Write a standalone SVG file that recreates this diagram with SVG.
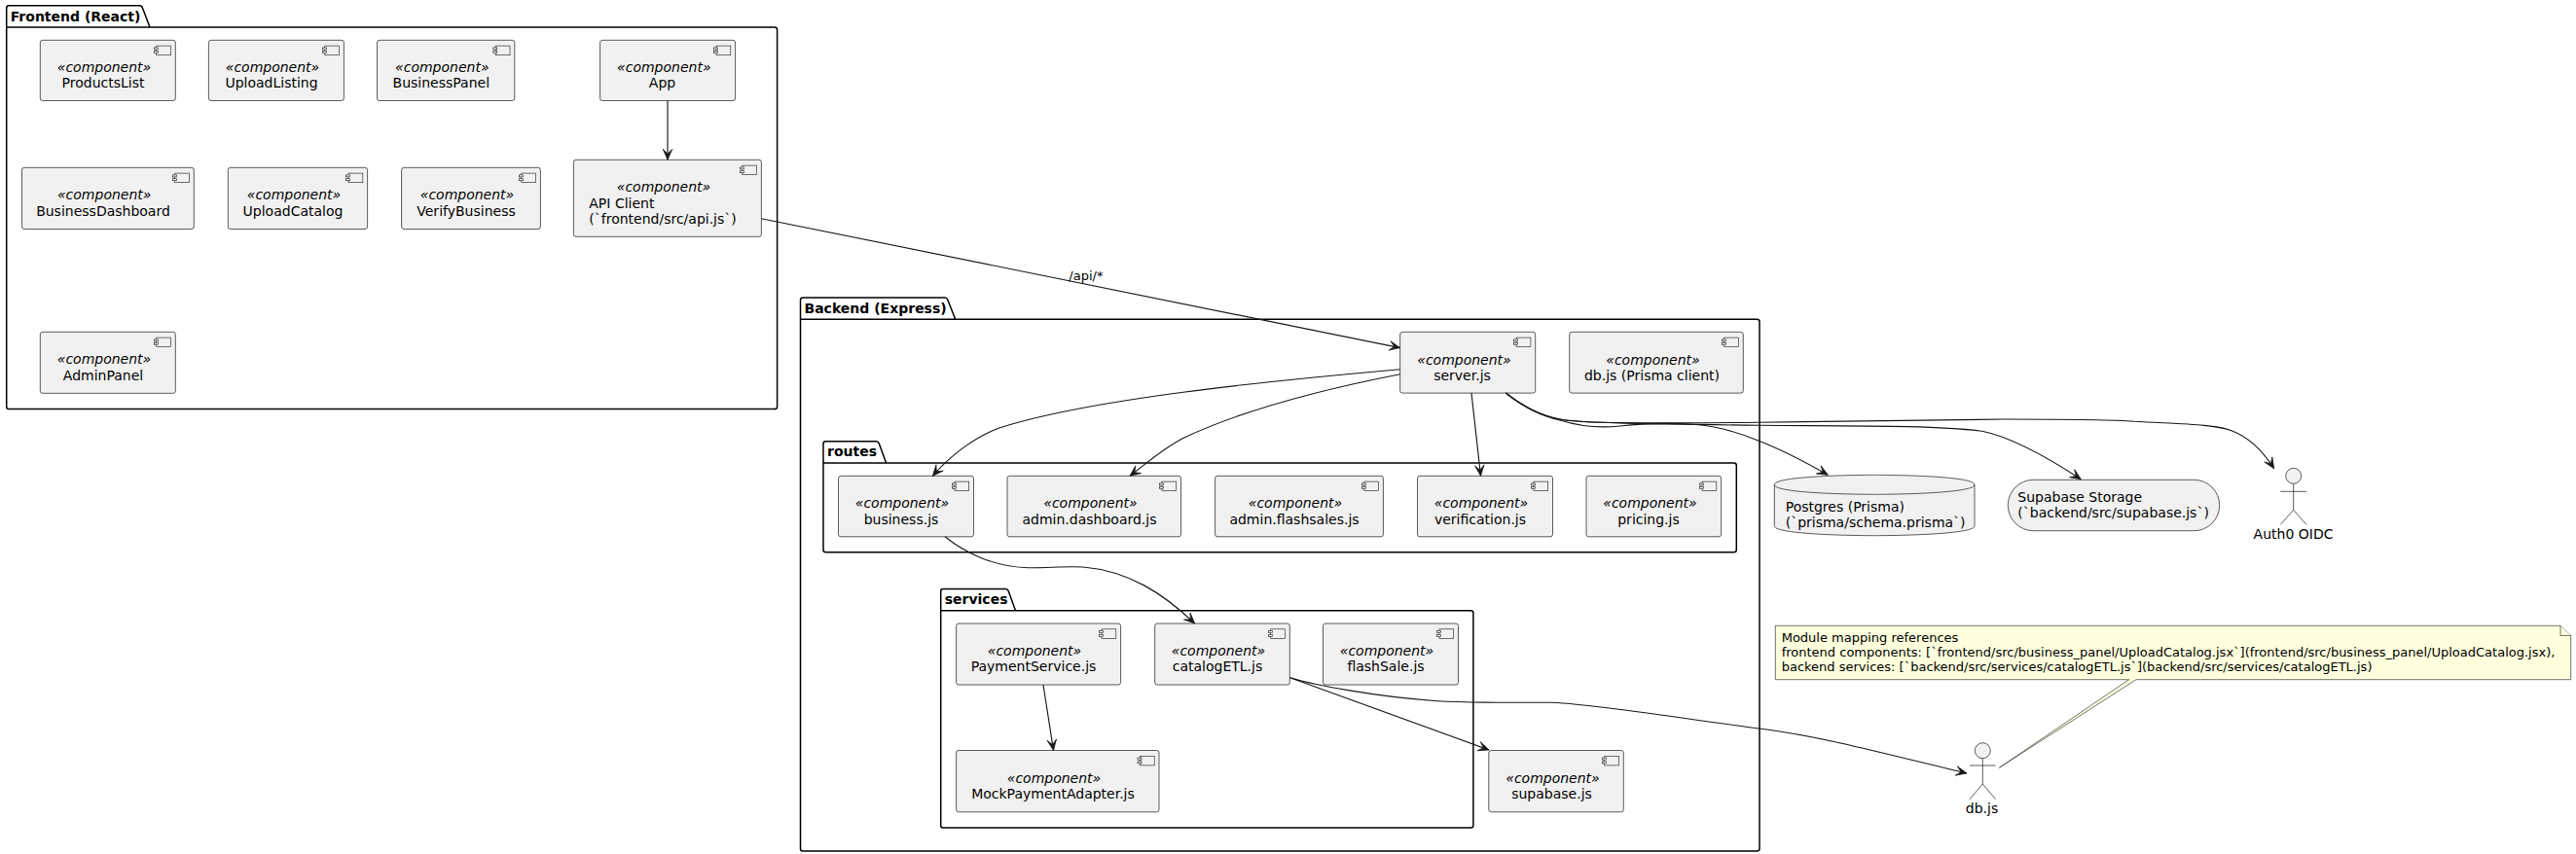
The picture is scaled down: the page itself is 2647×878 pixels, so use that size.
<svg xmlns="http://www.w3.org/2000/svg" width="2647" height="878" viewBox="0 0 2647 878">
<style>
text{font-family:"DejaVu Sans",sans-serif;font-size:14px;fill:#000}
.pkg{fill:none;stroke:#000;stroke-width:1.5}
.ttl{font-weight:700}
.box{fill:#F1F1F1;stroke:#181818;stroke-width:.7}
.ico{fill:#F1F1F1;stroke:#181818;stroke-width:.6}
.st{font-style:italic;text-anchor:middle}
.c{text-anchor:middle}
.act{fill:none;stroke:#181818;stroke-width:.7}
.head{fill:#F1F1F1;stroke:#181818;stroke-width:.7}
.edge{fill:none;stroke:#181818;stroke-width:1.15;marker-end:url(#arrow)}
.note{fill:#FEFFDD;stroke:#181818;stroke-width:.6}
.nt{font-size:13px}
</style>
<defs>
<marker id="arrow" markerUnits="userSpaceOnUse" markerWidth="14" markerHeight="12" refX="11.5" refY="5" orient="auto" overflow="visible"><path d="M11.5,5 L0.5,0.2 L5.5,5 L0.5,9.8 Z" fill="#181818" stroke="#181818" stroke-width=".7"/></marker>
<g id="compicon"><rect class="ico" x="-19.6" y="5.8" width="14.8" height="9.6"/><rect class="ico" x="-22" y="7.6" width="4" height="2"/><rect class="ico" x="-22" y="11.4" width="4" height="2"/></g>
</defs>
<g id="pkg-frontend"><path class="pkg" d="M6.7,28 V8.2 Q6.7,5.7 9.2,5.7 H143.5 Q145.7,5.7 146.4,8 L154,28 H796 Q798.6,28 798.6,30.5 V418 Q798.6,420.6 796,420.6 H9.2 Q6.7,420.6 6.7,418 Z M6.7,28 H154"/><text class="ttl" x="10.7" y="21.5">Frontend (React)</text></g>
<g id="pkg-backend"><path class="pkg" d="M822.5,328.3 V308.5 Q822.5,306 825,306 H971 Q973,306 973.7,308 L981.7,328.3 H1805.5 Q1808,328.3 1808,330.8 V872.5 Q1808,875 1805.5,875 H825 Q822.5,875 822.5,872.5 Z M822.5,328.3 H981.7"/><text class="ttl" x="826.5" y="321.5">Backend (Express)</text></g>
<g id="pkg-routes"><path class="pkg" d="M846,476 V456.2 Q846,453.7 848.5,453.7 H900.5 Q902.5,453.7 903.2,455.7 L910.6,476 H1781.8 Q1784.3,476 1784.3,478.5 V565.3 Q1784.3,567.8 1781.8,567.8 H848.5 Q846,567.8 846,565.3 Z M846,476 H910.6"/><text class="ttl" x="850" y="469.2">routes</text></g>
<g id="pkg-services"><path class="pkg" d="M966.7,627.8 V608.1 Q966.7,605.6 969.2,605.6 H1033.5 Q1035.5,605.6 1036.2,607.6 L1043.5,627.8 H1511.4 Q1513.9,627.8 1513.9,630.3 V848.5 Q1513.9,851 1511.4,851 H969.2 Q966.7,851 966.7,848.5 Z M966.7,627.8 H1043.5"/><text class="ttl" x="970.7" y="621">services</text></g>

<g id="ProductsList"><rect class="box" x="41.3" y="41.3" width="139" height="62.2" rx="2.5"/><use href="#compicon" x="180.3" y="41.3"/><text class="st" x="107" y="74">«component»</text><text class="c" x="106" y="90">ProductsList</text></g>
<g id="UploadListing"><rect class="box" x="214.4" y="41.3" width="139" height="62.2" rx="2.5"/><use href="#compicon" x="353.4" y="41.3"/><text class="st" x="280" y="74">«component»</text><text class="c" x="279" y="90">UploadListing</text></g>
<g id="BusinessPanel"><rect class="box" x="387.5" y="41.3" width="141.3" height="62.2" rx="2.5"/><use href="#compicon" x="528.8" y="41.3"/><text class="st" x="454.3" y="74">«component»</text><text class="c" x="453.3" y="90">BusinessPanel</text></g>
<g id="App"><rect class="box" x="616.6" y="41.3" width="139" height="62.2" rx="2.5"/><use href="#compicon" x="755.6" y="41.3"/><text class="st" x="682.3" y="74">«component»</text><text class="c" x="680.5" y="90">App</text></g>
<g id="BusinessDashboard"><rect class="box" x="22.5" y="172.3" width="176.8" height="63.2" rx="2.5"/><use href="#compicon" x="199.3" y="172.3"/><text class="st" x="107.2" y="205.3">«component»</text><text class="c" x="106" y="221.5">BusinessDashboard</text></g>
<g id="UploadCatalog"><rect class="box" x="234.3" y="172.3" width="143.3" height="63.2" rx="2.5"/><use href="#compicon" x="377.6" y="172.3"/><text class="st" x="302" y="205.3">«component»</text><text class="c" x="301" y="221.5">UploadCatalog</text></g>
<g id="VerifyBusiness"><rect class="box" x="412.6" y="172.3" width="142.8" height="63.2" rx="2.5"/><use href="#compicon" x="555.4" y="172.3"/><text class="st" x="480" y="205.3">«component»</text><text class="c" x="479" y="221.5">VerifyBusiness</text></g>
<g id="APIClient"><rect class="box" x="589.4" y="164.3" width="193" height="79" rx="2.5"/><use href="#compicon" x="782.4" y="164.3"/><text class="st" x="682" y="197.3">«component»</text><text x="605.3" y="213.8">API Client</text><text x="605.3" y="230">(`frontend/src/api.js`)</text></g>
<g id="AdminPanel"><rect class="box" x="41.3" y="341.3" width="139" height="63" rx="2.5"/><use href="#compicon" x="180.3" y="341.3"/><text class="st" x="107" y="374.3">«component»</text><text class="c" x="106" y="390.8">AdminPanel</text></g>

<g id="server"><rect class="box" x="1438.7" y="341.3" width="139" height="62.8" rx="2.5"/><use href="#compicon" x="1577.7" y="341.3"/><text class="st" x="1504.5" y="374.5">«component»</text><text class="c" x="1502.5" y="391">server.js</text></g>
<g id="dbclient"><rect class="box" x="1612.7" y="341.3" width="178.6" height="62.8" rx="2.5"/><use href="#compicon" x="1791.3" y="341.3"/><text class="st" x="1698.5" y="374.5">«component»</text><text class="c" x="1697.5" y="391">db.js (Prisma client)</text></g>
<g id="business"><rect class="box" x="861.5" y="489.3" width="139" height="62.5" rx="2.5"/><use href="#compicon" x="1000.5" y="489.3"/><text class="st" x="927" y="522.3">«component»</text><text class="c" x="926" y="538.5">business.js</text></g>
<g id="admindashboard"><rect class="box" x="1035" y="489.3" width="178.5" height="62.5" rx="2.5"/><use href="#compicon" x="1213.5" y="489.3"/><text class="st" x="1120.5" y="522.3">«component»</text><text class="c" x="1119.5" y="538.5">admin.dashboard.js</text></g>
<g id="adminflashsales"><rect class="box" x="1248.6" y="489.3" width="172.8" height="62.5" rx="2.5"/><use href="#compicon" x="1421.4" y="489.3"/><text class="st" x="1331" y="522.3">«component»</text><text class="c" x="1330" y="538.5">admin.flashsales.js</text></g>
<g id="verification"><rect class="box" x="1456.5" y="489.3" width="139" height="62.5" rx="2.5"/><use href="#compicon" x="1595.5" y="489.3"/><text class="st" x="1522" y="522.3">«component»</text><text class="c" x="1521" y="538.5">verification.js</text></g>
<g id="pricing"><rect class="box" x="1630" y="489.3" width="138.6" height="62.5" rx="2.5"/><use href="#compicon" x="1768.6" y="489.3"/><text class="st" x="1695.5" y="522.3">«component»</text><text class="c" x="1694" y="538.5">pricing.js</text></g>
<g id="PaymentService"><rect class="box" x="982.6" y="641" width="169" height="63" rx="2.5"/><use href="#compicon" x="1151.6" y="641"/><text class="st" x="1063" y="674">«component»</text><text class="c" x="1062" y="690.3">PaymentService.js</text></g>
<g id="catalogETL"><rect class="box" x="1186.7" y="641" width="138.6" height="63" rx="2.5"/><use href="#compicon" x="1325.3" y="641"/><text class="st" x="1252" y="674">«component»</text><text class="c" x="1251" y="690.3">catalogETL.js</text></g>
<g id="flashSale"><rect class="box" x="1359.5" y="641" width="139" height="63" rx="2.5"/><use href="#compicon" x="1498.5" y="641"/><text class="st" x="1425" y="674">«component»</text><text class="c" x="1424" y="690.3">flashSale.js</text></g>
<g id="MockPaymentAdapter"><rect class="box" x="982.6" y="771.5" width="208.4" height="63.3" rx="2.5"/><use href="#compicon" x="1191" y="771.5"/><text class="st" x="1083" y="804.8">«component»</text><text class="c" x="1082" y="821">MockPaymentAdapter.js</text></g>
<g id="supabase"><rect class="box" x="1529.8" y="771.5" width="138.5" height="63.3" rx="2.5"/><use href="#compicon" x="1668.3" y="771.5"/><text class="st" x="1595.5" y="804.8">«component»</text><text class="c" x="1594.5" y="821">supabase.js</text></g>

<g id="Postgres"><path class="box" d="M1823.3,498.3 C1823.3,488.3 1926,488.3 1926,488.3 C1926,488.3 2029,488.3 2029,498.3 V540.7 C2029,550.7 1926,550.7 1926,550.7 C1926,550.7 1823.3,550.7 1823.3,540.7 Z"/><path class="box" style="fill:none" d="M1823.3,498.3 C1823.3,508.3 1926,508.3 1926,508.3 C1926,508.3 2029,508.3 2029,498.3"/><text x="1834.7" y="526">Postgres (Prisma)</text><text x="1834.7" y="542">(`prisma/schema.prisma`)</text></g>
<g id="SupabaseStorage"><rect class="box" x="2063.3" y="493.3" width="217.4" height="52.4" rx="26.2"/><text x="2073.3" y="516">Supabase Storage</text><text x="2073.3" y="532">(`backend/src/supabase.js`)</text></g>
<g id="Auth0"><circle class="head" cx="2356.7" cy="489.3" r="8"/><path class="act" d="M2356.7,497.3 V524.3 M2343.3,505.3 H2370 M2356.7,524.3 L2343.3,539.3 M2356.7,524.3 L2370,539.3"/><text class="c" x="2356.5" y="554">Auth0 OIDC</text></g>
<g id="dbactor"><circle class="head" cx="2037.3" cy="771.7" r="8"/><path class="act" d="M2037.3,779.7 V806 M2024,787 H2050.7 M2037.3,806 L2024,821.7 M2037.3,806 L2050.7,821.7"/><text class="c" x="2036.5" y="836">db.js</text></g>
<g id="note"><path class="note" d="M1824.3,643.3 H2631 L2641.7,653.5 V698.7 H2195 L2054.3,789.3 L2187.7,698.7 H1824.3 Z"/><path class="note" d="M2631,643.3 V653.5 H2641.7"/><text class="nt" x="1830.7" y="660">Module mapping references</text><text class="nt" x="1830.7" y="675">frontend components: [`frontend/src/business_panel/UploadCatalog.jsx`](frontend/src/business_panel/UploadCatalog.jsx),</text><text class="nt" x="1830.7" y="690">backend services: [`backend/src/services/catalogETL.js`](backend/src/services/catalogETL.js)</text></g>

<g id="connectors">
<path class="edge" d="M686,103.5 V164.3"/>
<path class="edge" d="M782.4,224.7 L1438.7,357.6"/>
<path class="edge" d="M1438.7,379.7 C1300,392 1120,410 1026.7,440 C1000,450 975,470 958.4,489.3"/>
<path class="edge" d="M1438.7,384.7 C1350,402 1270,425 1216.7,450 C1195,461 1180,475 1161,489.3"/>
<path class="edge" d="M1512,404 L1521.5,489.3"/>
<path class="edge" d="M1547.3,404 C1565,418 1585,428 1603,432 C1625,439 1645,440 1665,438 C1690,435 1720,435 1743,436.5 C1760,438 1785,444 1806.7,453 C1830,462 1855,475 1878.3,488.3"/>
<path class="edge" d="M1547.3,404 C1565,418 1585,428 1603,431 C1625,435 1700,436 1808,437.3 C1900,438 1990,437 2036.7,443.3 C2065,449 2105,471 2138.3,492.7"/>
<path class="edge" d="M1547.3,404 C1565,418 1585,428 1603,431 C1625,436 1700,435 1808,434.3 C1900,433 2000,431 2060,431 C2110,431 2165,431 2193,433.3 C2240,436 2275,436 2293,442.7 C2315,451 2328,468 2336.7,481.7"/>
<path class="edge" d="M971,551.8 C990,567 1020,583 1056.7,583.7 C1075,584 1095,582 1113,583 C1160,587 1195,610 1227.7,641"/>
<path class="edge" d="M1325.7,696.7 L1530,771"/>
<path class="edge" d="M1325.7,696.7 C1350,704 1410,716 1476.7,720.7 C1520,723 1560,722 1593,722.3 C1630,722.6 1730,739 1810,749.3 C1880,758.3 1960,781 2021,795"/>
<path class="edge" d="M1072,704 L1082.5,771.5"/>
<text class="nt" x="1098.3" y="287.7">/api/*</text>
</g>
</svg>
